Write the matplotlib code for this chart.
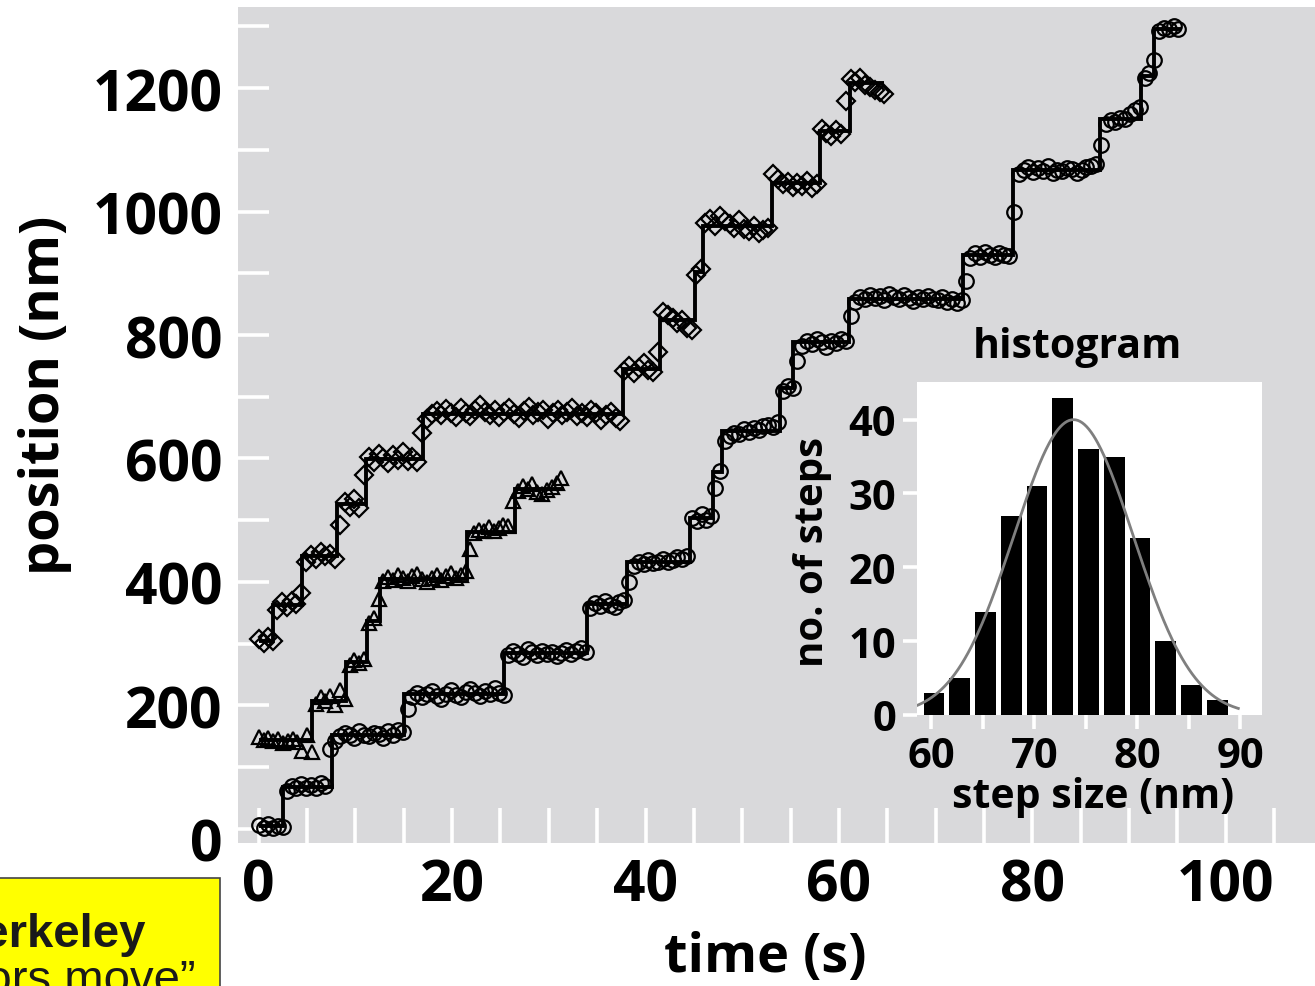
import numpy as np
import matplotlib
matplotlib.use("Agg")
import matplotlib.pyplot as plt
from matplotlib.patches import Rectangle
from matplotlib.transforms import ScaledTranslation

plt.rcParams['font.family'] = ['Open Sans', 'DejaVu Sans']
plt.rcParams['font.weight'] = 'bold'

# ---------------- data ----------------
frame_dt = 0.5  # s between recorded frames

# trace 1 (circles): frames grouped by dwell, (first frame time, positions in nm)
circle_segments = [
    (0.0, [6, 2, 8, 1, 5, 3]),
    (2.9, [62, 70, 66, 73, 67, 71, 66, 74, 69, 130]),
    (7.9, [142, 150, 156, 152, 147, 158, 153, 150, 156, 154, 148, 159, 153, 161, 157]),
    (15.4, [194, 214, 221, 213, 218, 223, 216, 211, 219, 225, 217, 214, 222, 227, 220,
            215, 224, 219, 228, 221, 217]),
    (25.8, [281, 288, 284, 279, 291, 286, 282, 289, 283, 287, 280, 285, 290, 284, 288, 293, 286]),
    (34.3, [358, 366, 361, 369, 363, 360, 367, 371]),
    (38.3, [400, 426, 432, 429, 435, 430, 433, 438, 432, 436, 440, 437, 442]),
    (44.8, [504, 498, 510, 500, 507]),
    (47.2, [553, 579]),
    (48.2, [628, 636, 642, 639, 647, 643, 650, 646, 652, 655, 651, 659]),
    (54.2, [710, 718, 714]),
    (55.7, [758, 782, 790, 786, 793, 788, 781, 791, 787, 794, 790]),
    (61.2, [831, 854, 862, 858, 865, 860, 863, 857, 866, 861, 859, 864, 860, 855, 862,
            858, 863, 859, 856, 861, 854, 858, 852, 857]),
    (73.1, [888, 924, 932, 927, 934, 929, 926, 933, 930, 928]),
    (78.1, [1000, 1060, 1068, 1072, 1064, 1070, 1066, 1073, 1062, 1068, 1065, 1071, 1069,
            1063, 1067, 1072, 1074, 1077]),
    (87.1, [1108, 1142, 1148, 1145, 1152, 1150, 1158, 1164, 1170]),
    (91.6, [1217, 1224]),
    (92.6, [1246, 1292, 1298, 1295, 1300, 1296]),
]
circle_levels = [5, 68, 152, 219, 285, 364, 433, 504, 578, 645, 714, 788, 859, 929,
                 1068, 1150, 1220, 1296]
circle_edges = [0.0, 2.5, 7.6, 15.0, 25.4, 34.0, 38.1, 44.6, 47.0, 47.9, 53.9, 55.3,
                61.0, 72.8, 78.0, 87.0, 91.2, 92.6, 95.4]

# trace 2 (diamonds)
diamond_segments = [
    (0.0, [308, 302, 311, 304]),
    (1.9, [354, 367, 360, 370, 364, 382]),
    (4.9, [432, 444, 438, 449, 442, 446, 437]),
    (8.4, [493, 530, 522, 534, 520, 574]),
    (11.4, [602, 594, 607, 600, 592, 605, 598, 610, 596, 603, 595, 642]),
    (17.4, [664, 672, 677, 670, 680, 674, 667, 682, 673, 669, 678, 686, 675, 671, 679,
            668, 676, 681, 672, 666, 677, 683, 670, 675, 679, 664, 673, 678, 671, 676,
            682, 669, 674, 667, 678, 673, 662, 670, 676, 665, 660]),
    (37.8, [742, 750, 738, 747, 754, 743, 740, 772]),
    (41.8, [838, 832, 827, 820, 824, 812, 808]),
    (45.2, [897, 907]),
    (46.2, [982, 988, 977, 992, 984, 980, 974, 986, 972, 968, 977, 965, 970, 974]),
    (53.2, [1060, 1052, 1044, 1048, 1040, 1046, 1042, 1050, 1038, 1045]),
    (58.2, [1134, 1127, 1122, 1132, 1126, 1179]),
    (61.2, [1214, 1210, 1217, 1205, 1202, 1197, 1194, 1190]),
]
diamond_levels = [304, 362, 442, 526, 599, 672, 745, 824, 902, 977, 1046, 1130, 1208]
diamond_edges = [0.0, 1.5, 4.5, 8.1, 11.1, 17.0, 37.7, 41.5, 45.1, 45.9, 53.1, 58.0,
                 61.1, 64.7]

# trace 3 (triangles)
triangle_segments = [
    (0.0, [149, 144, 147, 142, 145, 140, 143, 146, 141, 127, 153, 125]),
    (5.9, [203, 213, 207, 215, 201, 225, 211]),
    (9.4, [265, 273, 269, 276]),
    (11.4, [333, 341, 372]),
    (12.9, [401, 408, 404, 411, 406, 402, 409, 413, 405, 400, 407, 412, 403, 409, 415,
            406, 411, 418]),
    (21.8, [453, 479, 485, 482, 489, 483, 487, 493, 490, 531]),
    (26.8, [548, 555, 551, 559, 546, 543, 549, 554, 561, 569]),
]
triangle_levels = [144, 207, 270, 337, 405, 481, 551]
triangle_edges = [0.0, 5.5, 9.0, 11.2, 12.5, 21.5, 26.5, 31.6]

# step-size histogram
bin_centers = [60.25, 62.75, 65.25, 67.75, 70.25, 72.75, 75.25, 77.75, 80.25, 82.75, 85.25, 87.75]
bin_counts = [3, 5, 14, 27, 31, 43, 36, 35, 24, 10, 4, 2]
fit_amp, fit_mean, fit_sigma = 40.0, 73.8, 5.8

x_ticks = list(range(0, 110, 5))
x_labels = [str(v) if v % 20 == 0 else '' for v in x_ticks]
y_ticks = list(range(0, 1400, 100))
y_labels = [str(v) if v % 200 == 0 else '' for v in y_ticks]


def frames(segments):
    t, y = [], []
    for t0, vals in segments:
        for i, v in enumerate(vals):
            t.append(t0 + i * frame_dt)
            y.append(v)
    return np.array(t), np.array(y)


# ---------------- figure ----------------
W, H = 1315, 987
fig = plt.figure(figsize=(W / 100, H / 100), dpi=100, facecolor='white')


def fbox(x0, y0, x1, y1):
    return [x0 / W, 1 - y1 / H, (x1 - x0) / W, (y1 - y0) / H]


gray = '#d9d9db'
ax = fig.add_axes(fbox(238, 8, 1315, 844))
ax.set_facecolor(gray)
for s in ax.spines.values():
    s.set_visible(False)
ax.set_xlim(-2.14, 109.23)
ax.set_ylim(-22.7, 1331.2)
ax.set_xticks(x_ticks)
ax.set_xticklabels(x_labels)
ax.set_yticks(y_ticks)
ax.set_yticklabels(y_labels)
ax.tick_params(axis='both', direction='in', color='white', width=2.6, labelsize=41)
ax.tick_params(axis='x', length=25, pad=10)
ax.tick_params(axis='y', length=22, pad=11)
# the lowest position label sits a little below its tick
zero_lab = ax.get_yticklabels()[0]
zero_lab.set_transform(zero_lab.get_transform()
                       + ScaledTranslation(0, -10 / 100, fig.dpi_scale_trans))

line_kw = dict(color='black', lw=2.8, baseline=None, zorder=2)
mark_kw = dict(linestyle='none', mfc='none', mec='black', mew=1.6, zorder=3)

ax.stairs(circle_levels, circle_edges, **line_kw)
ax.stairs(diamond_levels, diamond_edges, **line_kw)
ax.stairs(triangle_levels, triangle_edges, **line_kw)

tc, yc = frames(circle_segments)
td, yd = frames(diamond_segments)
tt, yt = frames(triangle_segments)
ax.plot(tc, yc, marker='o', ms=10.5, **mark_kw)
ax.plot(td, yd, marker='D', ms=9.5, **mark_kw)
ax.plot(tt, yt, marker='^', ms=9.5, **mark_kw)

fig.text(765 / W, 1 - 958 / H, 'time (s)', fontsize=39, ha='center', va='center')
fig.text(45 / W, 1 - 395 / H, 'position (nm)', fontsize=39, ha='center', va='center',
         rotation=90)

# inset histogram
ax2 = fig.add_axes(fbox(917, 383, 1262, 716))
ax2.set_facecolor('white')
for s in ax2.spines.values():
    s.set_visible(False)
ax2.bar(bin_centers, bin_counts, width=2.0, color='black', zorder=2)
xs = np.linspace(57.9, 89.8, 300)
ax2.plot(xs, fit_amp * np.exp(-0.5 * ((xs - fit_mean) / fit_sigma) ** 2),
         color='#7f7f7f', lw=2.0, zorder=3)
ax2.set_xlim(58.6, 92.1)
ax2.set_ylim(0, 45.1)
ax2.set_xticks(range(60, 95, 5))
ax2.set_xticklabels(['60', '', '70', '', '80', '', '90'])
ax2.set_yticks(range(0, 50, 10))
ax2.tick_params(axis='both', direction='out', color='white', width=2.6, length=10,
                labelsize=30, pad=5)
ax2.patch.set_zorder(0)

fig.text(1077 / W, 1 - 347 / H, 'histogram', fontsize=29.5, ha='center', va='center')
fig.text(1093 / W, 1 - 798 / H, 'step size (nm)', fontsize=29.5, ha='center', va='center')
fig.text(812 / W, 1 - 552 / H, 'no. of steps', fontsize=29, ha='center', va='center',
         rotation=90)

# yellow note box at the lower left
fig.patches.append(Rectangle((-0.01, -0.01), 220 / W + 0.01, (987 - 879) / H + 0.01,
                             transform=fig.transFigure, facecolor='#ffff00',
                             edgecolor='#444444', lw=1.2, zorder=5))
fig.text(145 / W, 1 - 947 / H, 'UC Berkeley', fontsize=34, ha='right', va='baseline',
         family='Liberation Sans', weight='bold', color='#1a1a1a', zorder=6)
fig.text(196 / W, 1 - 993 / H, '\u201cHow motors move\u201d', fontsize=34, ha='right',
         va='baseline', family='Liberation Sans', weight='normal', color='#1a1a1a', zorder=6)

fig.savefig('out.png', dpi=100, facecolor='white')
